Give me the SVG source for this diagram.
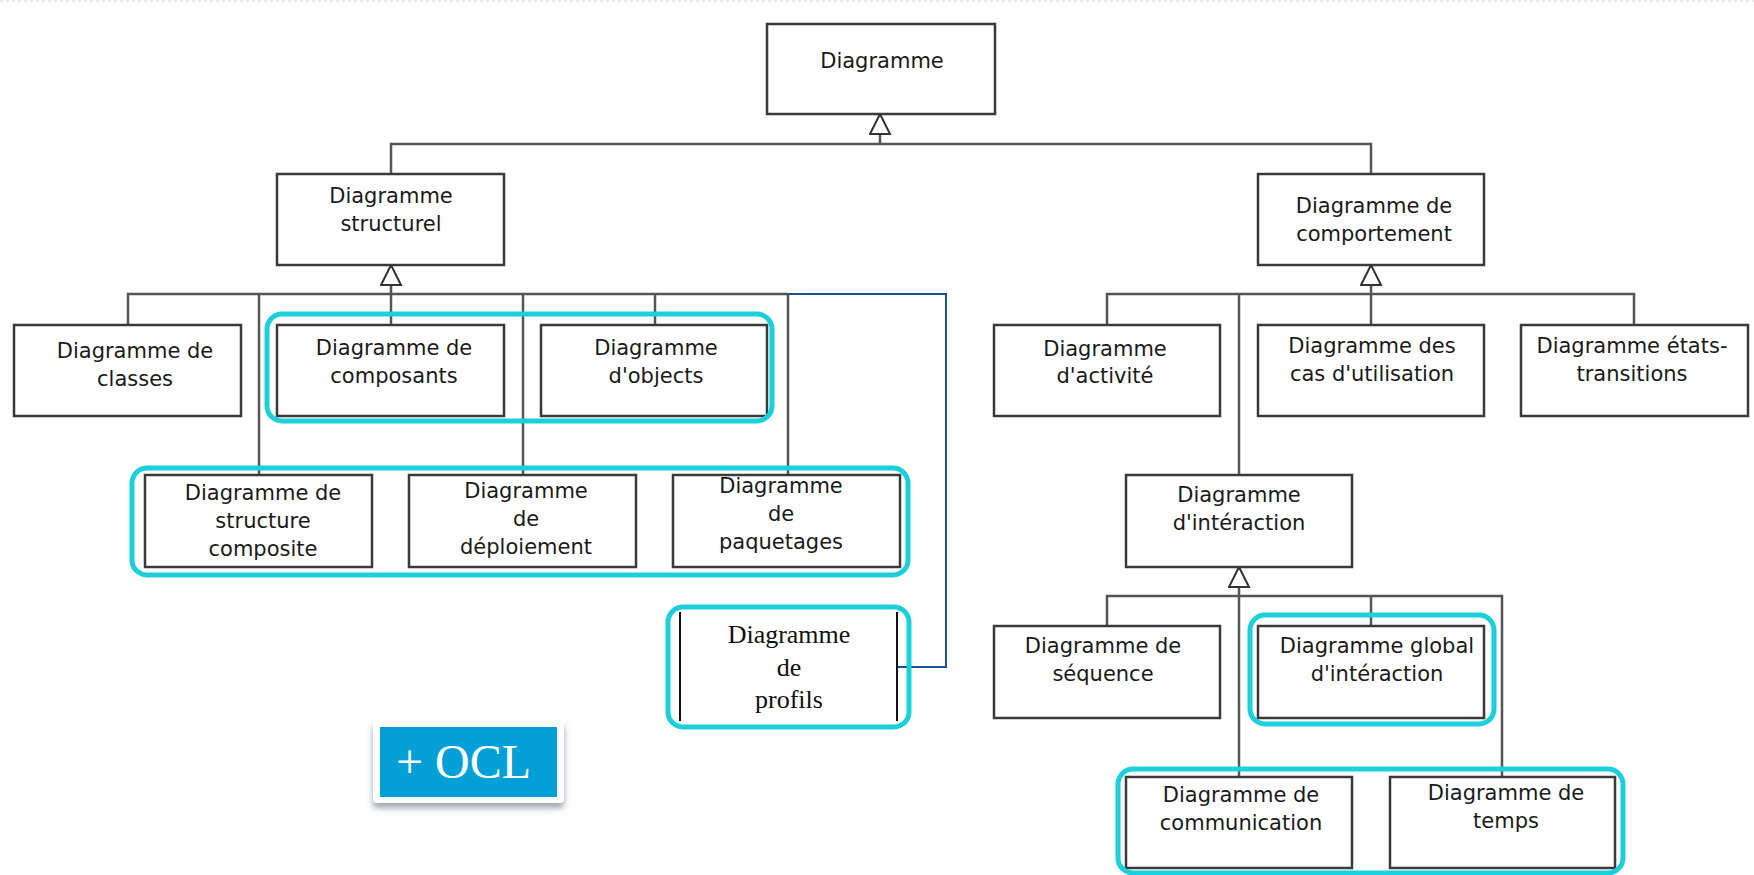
<svg xmlns="http://www.w3.org/2000/svg" width="1754" height="875" viewBox="0 0 1754 875">
  <style>
    .box { fill: #ffffff; stroke: #3a3a3a; stroke-width: 2.5; }
    .t { font-family: "DejaVu Sans", sans-serif; font-size: 21px; fill: #1a1a1a; text-anchor: middle; }
    .serif { font-family: "Liberation Serif", serif; font-size: 26px; fill: #111; text-anchor: middle; }
    .conn { fill: none; stroke: #555555; stroke-width: 2.5; }
    .blue { fill: none; stroke: #1a4f9c; stroke-width: 2; }
    .hl { fill: none; stroke: #1bcfdb; stroke-width: 5; }
  </style>
  <defs>
    <marker id="gen" markerUnits="userSpaceOnUse" markerWidth="24" markerHeight="26" refX="21" refY="11" orient="auto">
      <path d="M1,1 L21,11 L1,21 Z" fill="#ffffff" stroke="#333333" stroke-width="2"/>
    </marker>
    <filter id="shadow" x="-20%" y="-20%" width="140%" height="160%">
      <feGaussianBlur in="SourceAlpha" stdDeviation="3"/>
      <feOffset dx="0" dy="5" result="b"/>
      <feFlood flood-color="#5a6b7a" flood-opacity="0.6"/>
      <feComposite in2="b" operator="in"/>
      <feMerge><feMergeNode/><feMergeNode in="SourceGraphic"/></feMerge>
    </filter>
  </defs>
  <rect x="0" y="0" width="1754" height="875" fill="#ffffff"/>
  <line x1="0" y1="1" x2="1754" y2="1" stroke="#e4e4e4" stroke-width="1.5" stroke-dasharray="3 3"/>

  <g id="connectors">
    <path class="conn" d="M391,174 V144 H1371 V174"/>
    <path class="conn" d="M880,144 V114" marker-end="url(#gen)"/>
    <path class="conn" d="M128,325 V294 H788"/>
    <path class="conn" d="M259,294 V475"/>
    <path class="conn" d="M391,294 V325"/>
    <path class="conn" d="M391,294 V265" marker-end="url(#gen)"/>
    <path class="conn" d="M523,294 V475"/>
    <path class="conn" d="M655,294 V325"/>
    <path class="conn" d="M788,294 V475"/>
    <path class="blue" d="M788,294 H946 V667 H898"/>
    <path class="conn" d="M1107,325 V294 H1634 V325"/>
    <path class="conn" d="M1239,294 V475"/>
    <path class="conn" d="M1371,294 V325"/>
    <path class="conn" d="M1371,294 V265" marker-end="url(#gen)"/>
    <path class="conn" d="M1107,626 V596 H1502 V777"/>
    <path class="conn" d="M1239,596 V777"/>
    <path class="conn" d="M1239,596 V567" marker-end="url(#gen)"/>
    <path class="conn" d="M1371,596 V626"/>
  </g>

  <g id="n-diagramme">
    <rect class="box" x="767" y="24" width="228" height="90"/>
    <text class="t" x="882" y="68">Diagramme</text>
  </g>
  <g id="n-structurel">
    <rect class="box" x="277" y="174" width="227" height="91"/>
    <text class="t" x="391" y="203">Diagramme</text>
    <text class="t" x="391" y="231">structurel</text>
  </g>
  <g id="n-comportement">
    <rect class="box" x="1258" y="174" width="226" height="91"/>
    <text class="t" x="1374" y="213">Diagramme de</text>
    <text class="t" x="1374" y="241">comportement</text>
  </g>
  <g id="n-classes">
    <rect class="box" x="14" y="325" width="227" height="91"/>
    <text class="t" x="135" y="358">Diagramme de</text>
    <text class="t" x="135" y="386">classes</text>
  </g>
  <g id="n-composants">
    <rect class="box" x="277" y="325" width="227" height="91"/>
    <text class="t" x="394" y="355">Diagramme de</text>
    <text class="t" x="394" y="383">composants</text>
  </g>
  <g id="n-objects">
    <rect class="box" x="541" y="325" width="226" height="91"/>
    <text class="t" x="656" y="355">Diagramme</text>
    <text class="t" x="656" y="383">d'objects</text>
  </g>
  <g id="n-activite">
    <rect class="box" x="994" y="325" width="226" height="91"/>
    <text class="t" x="1105" y="356">Diagramme</text>
    <text class="t" x="1105" y="383">d'activité</text>
  </g>
  <g id="n-cas">
    <rect class="box" x="1258" y="325" width="226" height="91"/>
    <text class="t" x="1372" y="353">Diagramme des</text>
    <text class="t" x="1372" y="381">cas d'utilisation</text>
  </g>
  <g id="n-etats">
    <rect class="box" x="1521" y="325" width="227" height="91"/>
    <text class="t" x="1632" y="353">Diagramme états-</text>
    <text class="t" x="1632" y="381">transitions</text>
  </g>
  <g id="n-composite">
    <rect class="box" x="145" y="475" width="227" height="92"/>
    <text class="t" x="263" y="500">Diagramme de</text>
    <text class="t" x="263" y="528">structure</text>
    <text class="t" x="263" y="556">composite</text>
  </g>
  <g id="n-deploiement">
    <rect class="box" x="409" y="475" width="227" height="92"/>
    <text class="t" x="526" y="498">Diagramme</text>
    <text class="t" x="526" y="526">de</text>
    <text class="t" x="526" y="554">déploiement</text>
  </g>
  <g id="n-paquetages">
    <rect class="box" x="673" y="475" width="227" height="92"/>
    <text class="t" x="781" y="493">Diagramme</text>
    <text class="t" x="781" y="521">de</text>
    <text class="t" x="781" y="549">paquetages</text>
  </g>
  <g id="n-interaction">
    <rect class="box" x="1126" y="475" width="226" height="92"/>
    <text class="t" x="1239" y="502">Diagramme</text>
    <text class="t" x="1239" y="530">d'intéraction</text>
  </g>
  <g id="n-sequence">
    <rect class="box" x="994" y="626" width="226" height="92"/>
    <text class="t" x="1103" y="653">Diagramme de</text>
    <text class="t" x="1103" y="681">séquence</text>
  </g>
  <g id="n-global">
    <rect class="box" x="1258" y="626" width="226" height="92"/>
    <text class="t" x="1377" y="653">Diagramme global</text>
    <text class="t" x="1377" y="681">d'intéraction</text>
  </g>
  <g id="n-communication">
    <rect class="box" x="1126" y="777" width="226" height="91"/>
    <text class="t" x="1241" y="802">Diagramme de</text>
    <text class="t" x="1241" y="830">communication</text>
  </g>
  <g id="n-temps">
    <rect class="box" x="1390" y="777" width="225" height="91"/>
    <text class="t" x="1506" y="800">Diagramme de</text>
    <text class="t" x="1506" y="828">temps</text>
  </g>
  <g id="n-profils">
    <rect x="680" y="612" width="217" height="109" fill="#ffffff"/>
    <line x1="680" y1="612" x2="680" y2="721" stroke="#111" stroke-width="2"/>
    <line x1="897" y1="612" x2="897" y2="721" stroke="#111" stroke-width="2"/>
    <text class="serif" x="789" y="643">Diagramme</text>
    <text class="serif" x="789" y="676">de</text>
    <text class="serif" x="789" y="708">profils</text>
  </g>

  <g id="highlights">
    <rect class="hl" x="267" y="314" width="505" height="107" rx="15"/>
    <rect class="hl" x="132" y="468" width="776" height="107" rx="15"/>
    <rect class="hl" x="668" y="607" width="241" height="120" rx="15"/>
    <rect class="hl" x="1250" y="615" width="244" height="109" rx="15"/>
    <rect class="hl" x="1118" y="769" width="505" height="104" rx="15"/>
  </g>

  <g id="n-ocl">
    <rect x="373" y="721" width="191" height="82" rx="4" fill="#ffffff" filter="url(#shadow)"/>
    <rect x="380" y="727" width="177" height="70" fill="#039fd7"/>
    <text x="396" y="778" font-family="Liberation Serif, serif" font-size="48" fill="#ffffff">+ OCL</text>
  </g>
</svg>
